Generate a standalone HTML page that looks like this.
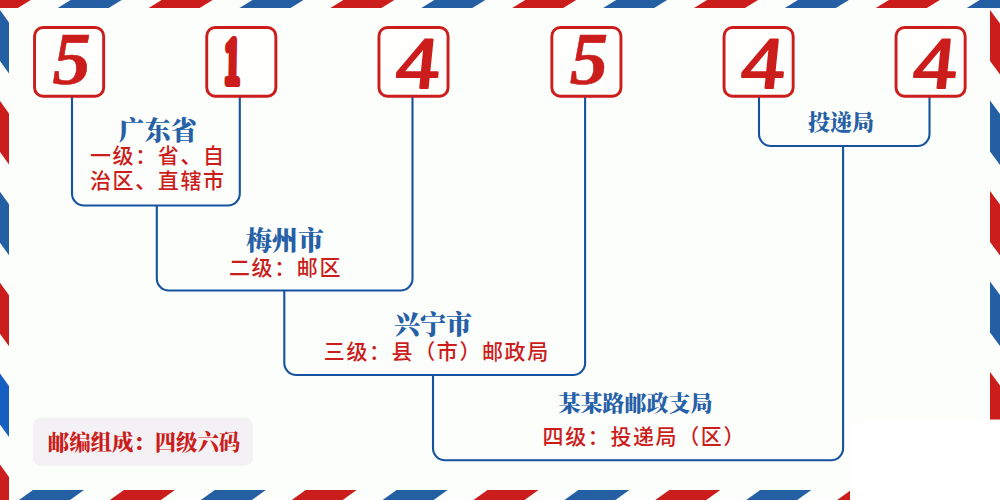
<!DOCTYPE html>
<html lang="zh-CN">
<head>
<meta charset="utf-8">
<title>邮编组成：四级六码</title>
<style>
html,body{margin:0;padding:0;background:#FCFEFB;overflow:hidden}
body{width:1000px;height:500px;position:relative}
svg{position:absolute;left:0;top:0;display:block}
</style>
</head>
<body>
<svg width="1000" height="500" viewBox="0 0 1000 500">
<rect x="0" y="0" width="1000" height="500" fill="#FCFEFB"/>
<g shape-rendering="geometricPrecision">
<polygon points="-33.2,8 -20.2,0 30.8,0 17.8,8" fill="#CB1D1C"/>
<polygon points="57.7,8 70.7,0 121.7,0 108.7,8" fill="#245FA4"/>
<polygon points="148.6,8 161.6,0 212.6,0 199.6,8" fill="#CB1D1C"/>
<polygon points="239.5,8 252.5,0 303.5,0 290.5,8" fill="#245FA4"/>
<polygon points="330.4,8 343.4,0 394.4,0 381.4,8" fill="#CB1D1C"/>
<polygon points="421.3,8 434.3,0 485.3,0 472.3,8" fill="#245FA4"/>
<polygon points="512.2,8 525.2,0 576.2,0 563.2,8" fill="#CB1D1C"/>
<polygon points="603.1,8 616.1,0 667.1,0 654.1,8" fill="#245FA4"/>
<polygon points="694,8 707,0 758,0 745,8" fill="#CB1D1C"/>
<polygon points="784.9,8 797.9,0 848.9,0 835.9,8" fill="#245FA4"/>
<polygon points="875.8,8 888.8,0 939.8,0 926.8,8" fill="#CB1D1C"/>
<polygon points="966.7,8 979.7,0 1030.7,0 1017.7,8" fill="#245FA4"/>
<polygon points="-57.9,490 -6.9,490 -20.9,500 -71.9,500" fill="#CB1D1C"/>
<polygon points="33,490 84,490 70,500 19,500" fill="#245FA4"/>
<polygon points="123.9,490 174.9,490 160.9,500 109.9,500" fill="#CB1D1C"/>
<polygon points="214.8,490 265.8,490 251.8,500 200.8,500" fill="#245FA4"/>
<polygon points="305.7,490 356.7,490 342.7,500 291.7,500" fill="#CB1D1C"/>
<polygon points="396.6,490 447.6,490 433.6,500 382.6,500" fill="#245FA4"/>
<polygon points="487.5,490 538.5,490 524.5,500 473.5,500" fill="#CB1D1C"/>
<polygon points="578.4,490 629.4,490 615.4,500 564.4,500" fill="#245FA4"/>
<polygon points="669.3,490 720.3,490 706.3,500 655.3,500" fill="#CB1D1C"/>
<polygon points="760.2,490 811.2,490 797.2,500 746.2,500" fill="#245FA4"/>
<polygon points="851.1,490 902.1,490 888.1,500 837.1,500" fill="#CB1D1C"/>
<polygon points="942,490 993,490 979,500 928,500" fill="#245FA4"/>
<polygon points="0,10 9,22.5 9,73.5 0,61" fill="#245FA4"/>
<polygon points="0,100.9 9,113.4 9,164.4 0,151.9" fill="#CB1D1C"/>
<polygon points="0,191.8 9,204.3 9,255.3 0,242.8" fill="#245FA4"/>
<polygon points="0,282.7 9,295.2 9,346.2 0,333.7" fill="#CB1D1C"/>
<polygon points="0,373.6 9,386.1 9,437.1 0,424.6" fill="#155EC2"/>
<polygon points="0,464.5 9,477 9,528 0,515.5" fill="#CB1D1C"/>
<polygon points="990,10 1000,23.5 1000,74.5 990,61" fill="#CB1D1C"/>
<polygon points="990,100.5 1000,114 1000,165 990,151.5" fill="#245FA4"/>
<polygon points="990,191 1000,204.5 1000,255.5 990,242" fill="#CB1D1C"/>
<polygon points="990,281.5 1000,295 1000,346 990,332.5" fill="#245FA4"/>
<polygon points="990,372 1000,385.5 1000,436.5 990,423" fill="#CB1D1C"/>
<polygon points="990,462.5 1000,476 1000,527 990,513.5" fill="#245FA4"/>
</g>
<rect x="850" y="419.5" width="150" height="81" fill="#FFFFFF"/>
<path d="M72 96 V193.5 A12 12 0 0 0 84 205.5 H227.8 A12 12 0 0 0 239.8 193.5 V96 M156.8 205.5 V278.5 A12 12 0 0 0 168.8 290.5 H400.5 A12 12 0 0 0 412.5 278.5 V96 M284.3 290.5 V363 A12 12 0 0 0 296.3 375 H573.1 A12 12 0 0 0 585.1 363 V96 M433 375 V448.3 A12 12 0 0 0 445 460.3 H831.1 A12 12 0 0 0 843.1 448.3 V146 M759 96 V134 A12 12 0 0 0 771 146 H917.5 A12 12 0 0 0 929.5 134 V96" fill="none" stroke="#17529F" stroke-width="2.1"/>
<rect x="34.55" y="27.45" width="69.1" height="68.8" rx="8.5" fill="#FEFEFD" stroke="#CB1D1C" stroke-width="2.9"/>
<rect x="206.75" y="27.45" width="69.1" height="68.8" rx="8.5" fill="#FEFEFD" stroke="#CB1D1C" stroke-width="2.9"/>
<rect x="378.95" y="27.45" width="69.1" height="68.8" rx="8.5" fill="#FEFEFD" stroke="#CB1D1C" stroke-width="2.9"/>
<rect x="551.85" y="27.45" width="69.1" height="68.8" rx="8.5" fill="#FEFEFD" stroke="#CB1D1C" stroke-width="2.9"/>
<rect x="724.05" y="27.45" width="69.1" height="68.8" rx="8.5" fill="#FEFEFD" stroke="#CB1D1C" stroke-width="2.9"/>
<rect x="896.05" y="27.45" width="69.1" height="68.8" rx="8.5" fill="#FEFEFD" stroke="#CB1D1C" stroke-width="2.9"/>
<text transform="translate(52.43 83.52) scale(0.7681 0.7412) skewX(0)" font-size="100" font-family="'Liberation Serif',serif" font-style="italic" font-weight="bold" fill="#CB1D1C" stroke="#CB1D1C" stroke-width="0.8" stroke-linejoin="round">5</text>
<text transform="translate(225.87 83.28) scale(0.3180 0.6538) skewX(8)" font-size="100" font-family="'Liberation Serif',serif" font-style="italic" font-weight="bold" fill="#CB1D1C" stroke="#CB1D1C" stroke-width="12" stroke-linejoin="round">1</text>
<text transform="translate(398.08 87.93) scale(0.8588 0.7371) skewX(5)" font-size="100" font-family="'Liberation Serif',serif" font-style="italic" font-weight="normal" fill="#CB1D1C" stroke="#CB1D1C" stroke-width="3" stroke-linejoin="round">4</text>
<text transform="translate(569.73 83.52) scale(0.7681 0.7412) skewX(0)" font-size="100" font-family="'Liberation Serif',serif" font-style="italic" font-weight="bold" fill="#CB1D1C" stroke="#CB1D1C" stroke-width="0.8" stroke-linejoin="round">5</text>
<text transform="translate(743.18 87.93) scale(0.8588 0.7371) skewX(5)" font-size="100" font-family="'Liberation Serif',serif" font-style="italic" font-weight="normal" fill="#CB1D1C" stroke="#CB1D1C" stroke-width="3" stroke-linejoin="round">4</text>
<text transform="translate(915.18 87.93) scale(0.8588 0.7371) skewX(5)" font-size="100" font-family="'Liberation Serif',serif" font-style="italic" font-weight="normal" fill="#CB1D1C" stroke="#CB1D1C" stroke-width="3" stroke-linejoin="round">4</text>
<rect x="32.8" y="417.7" width="220.3" height="48" rx="8.5" fill="#F3F1F4"/>
<text x="157.8" y="140" font-size="26" font-family="'Liberation Serif','Noto Serif CJK SC',serif" fill="#2660A6" font-weight="900" text-anchor="middle" >广东省</text>
<text x="285" y="249.5" font-size="26" font-family="'Liberation Serif','Noto Serif CJK SC',serif" fill="#2660A6" font-weight="900" text-anchor="middle" >梅州市</text>
<text x="433" y="333.5" font-size="26" font-family="'Liberation Serif','Noto Serif CJK SC',serif" fill="#2660A6" font-weight="900" text-anchor="middle" >兴宁市</text>
<text x="635.6" y="411" font-size="22" font-family="'Liberation Serif','Noto Serif CJK SC',serif" fill="#2660A6" font-weight="900" text-anchor="middle" >某某路邮政支局</text>
<text x="841" y="129.5" font-size="22" font-family="'Liberation Serif','Noto Serif CJK SC',serif" fill="#2660A6" font-weight="900" text-anchor="middle" >投递局</text>
<text x="157.8" y="163" font-size="21" font-family="'Liberation Sans','Noto Sans CJK SC',sans-serif" fill="#CB1D1C" font-weight="500" text-anchor="middle"  letter-spacing="1.6">一级：省、自</text>
<text x="157.8" y="187.5" font-size="21" font-family="'Liberation Sans','Noto Sans CJK SC',sans-serif" fill="#CB1D1C" font-weight="500" text-anchor="middle"  letter-spacing="1.6">治区、直辖市</text>
<text x="285.5" y="274.5" font-size="21" font-family="'Liberation Sans','Noto Sans CJK SC',sans-serif" fill="#CB1D1C" font-weight="500" text-anchor="middle"  letter-spacing="1.6">二级：邮区</text>
<text x="436.8" y="359" font-size="21" font-family="'Liberation Sans','Noto Sans CJK SC',sans-serif" fill="#CB1D1C" font-weight="500" text-anchor="middle"  letter-spacing="1.6">三级：县（市）邮政局</text>
<text x="644.3" y="444.3" font-size="21" font-family="'Liberation Sans','Noto Sans CJK SC',sans-serif" fill="#CB1D1C" font-weight="500" text-anchor="middle"  letter-spacing="1.6">四级：投递局（区）</text>
<text x="144" y="449.5" font-size="21.4" font-family="'Liberation Serif','Noto Serif CJK SC',serif" fill="#CB1D1C" font-weight="900" text-anchor="middle" >邮编组成：四级六码</text>
</svg>
</body>
</html>
